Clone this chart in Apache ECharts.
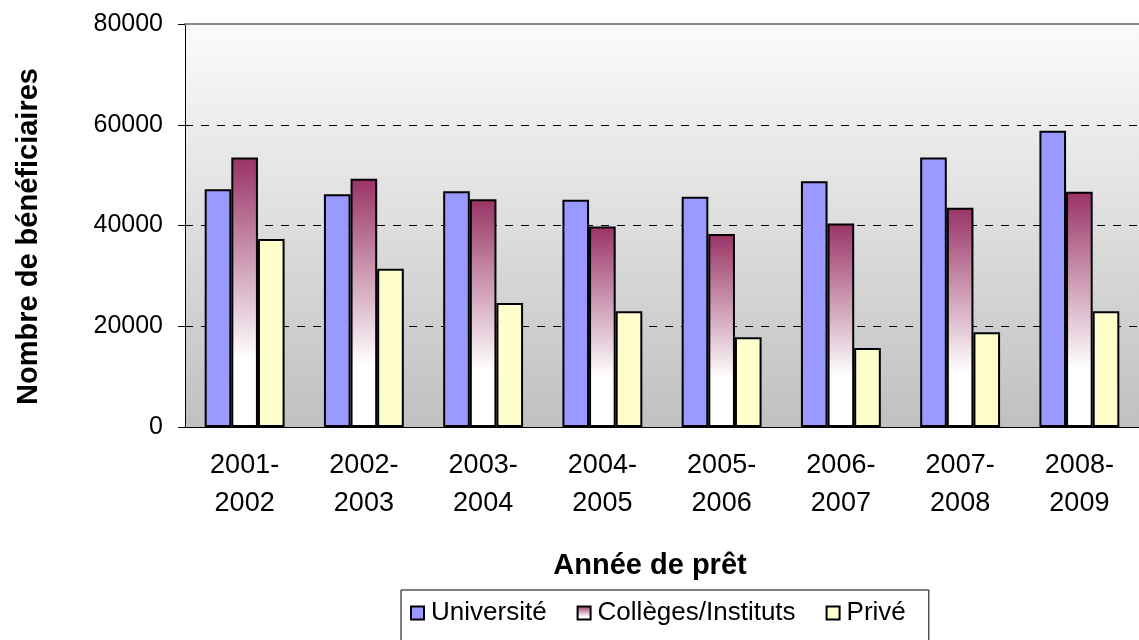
<!DOCTYPE html>
<html>
<head>
<meta charset="utf-8">
<title>Nombre de bénéficiaires</title>
<script src="https://cdn.jsdelivr.net/npm/echarts@6/dist/echarts.min.js"></script>
<style>
    body, html { margin: 0; padding: 0; background: #fff; }
    #chart { width: 1139px; height: 640px; }
</style>
</head>
<body>
<div id="chart"></div>
<script type="text/javascript">
var years = ['2001-\n2002', '2002-\n2003', '2003-\n2004', '2004-\n2005',
             '2005-\n2006', '2006-\n2007', '2007-\n2008', '2008-\n2009'];
var universite = [47200, 46200, 46800, 45100, 45700, 48800, 53500, 58800];
var colleges   = [53500, 49300, 45200, 39800, 38300, 40400, 43500, 46700];
var prive      = [37300, 31400, 24600, 23000, 17800, 15700, 18800, 23000];

var font = 'Liberation Sans, Arial, sans-serif';

var myChart = echarts.init(document.getElementById('chart'));

var option = {
    animation: false,
    textStyle: { fontFamily: font },
    grid: {
        left: 185, right: -7, top: 24, bottom: 213,
        show: true, borderWidth: 0,
        backgroundColor: new echarts.graphic.LinearGradient(0, 0, 0, 1, [
            { offset: 0, color: '#fbfbfb' },
            { offset: 1, color: '#c0c0c0' }
        ])
    },
    legend: {
        left: 401, top: 590,
        padding: [10, 23, 20, 9],
        borderColor: '#000', borderWidth: 1,
        itemWidth: 13, itemHeight: 13, itemGap: 30,
        icon: 'rect',
        textStyle: { fontSize: 26, color: '#000', fontFamily: font, padding: [0, 0, 0, 2] },
        data: ['Université', 'Collèges/Instituts', 'Privé']
    },
    xAxis: [{
        type: 'category',
        data: years,
        name: 'Année de prêt',
        nameLocation: 'middle',
        nameGap: 124,
        nameTextStyle: {
            fontSize: 29, fontWeight: 'bold', color: '#000', fontFamily: font,
            padding: [0, 24, 0, 0]
        },
        axisLine: { lineStyle: { color: '#000', width: 1 } },
        axisTick: { length: 6, lineStyle: { color: '#000' } },
        axisLabel: { fontSize: 27, color: '#000', lineHeight: 38, margin: 20, fontFamily: font }
    }, {
        type: 'category',
        position: 'top',
        data: years,
        axisLine: { lineStyle: { color: '#888', width: 2 } },
        axisTick: { show: false },
        axisLabel: { show: false }
    }],
    yAxis: {
        type: 'value',
        min: 0, max: 80000, interval: 20000,
        name: 'Nombre de bénéficiaires',
        nameLocation: 'middle',
        nameGap: 142,
        nameTextStyle: {
            fontSize: 29, fontWeight: 'bold', color: '#000', fontFamily: font,
            padding: [0, 22, 0, 0]
        },
        axisLine: { show: true, lineStyle: { color: '#000', width: 1 } },
        axisTick: { show: true, length: 7, lineStyle: { color: '#000' } },
        axisLabel: {
            fontSize: 25, color: '#000', margin: 22, fontFamily: font,
            formatter: function (v) { return String(v); }
        },
        splitLine: {
            show: true,
            lineStyle: { color: '#000', type: [8, 8], width: 1 }
        }
    },
    series: [{
        name: 'Université',
        type: 'bar',
        data: universite,
        barGap: '0%',
        barCategoryGap: '33%',
        itemStyle: { color: '#9999ff', borderColor: '#000', borderWidth: 2 }
    }, {
        name: 'Collèges/Instituts',
        type: 'bar',
        data: colleges,
        itemStyle: {
            color: new echarts.graphic.LinearGradient(0, 0, 0, 1, [
                { offset: 0, color: '#993366' },
                { offset: 0.75, color: '#ffffff' },
                { offset: 1, color: '#ffffff' }
            ]),
            borderColor: '#000', borderWidth: 2
        }
    }, {
        name: 'Privé',
        type: 'bar',
        data: prive,
        itemStyle: { color: '#ffffcc', borderColor: '#000', borderWidth: 2 }
    }]
};

myChart.setOption(option);
</script>
</body>
</html>
